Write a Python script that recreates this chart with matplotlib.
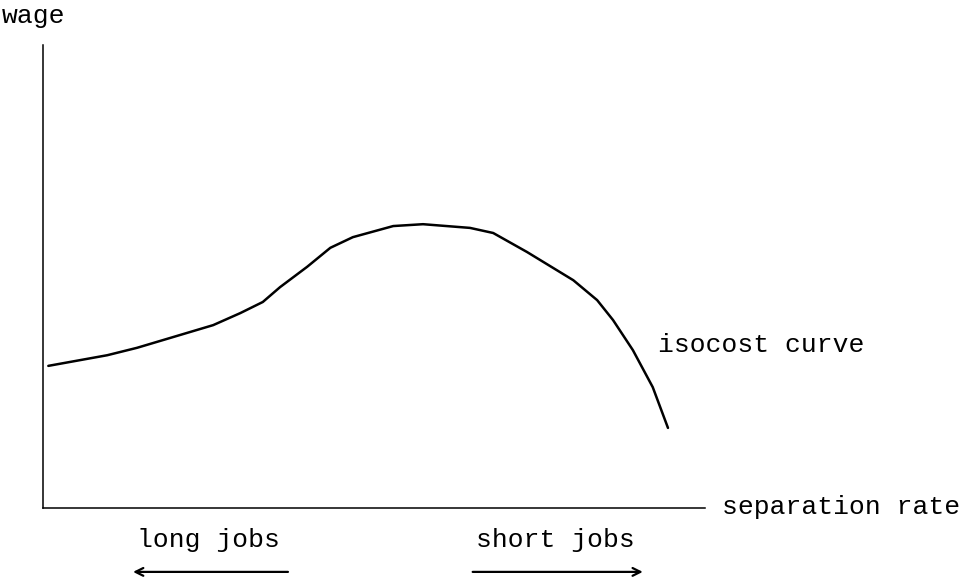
import matplotlib
matplotlib.use('Agg')
import matplotlib.pyplot as plt

# isocost curve (both axes scaled 0..1)
sep_rate = [0.008, 0.097, 0.142, 0.196, 0.257, 0.298, 0.332, 0.358, 0.399, 0.434, 0.468,
            0.529, 0.574, 0.645, 0.680, 0.731, 0.801, 0.837, 0.861, 0.891, 0.921, 0.944]
wage = [0.307, 0.330, 0.346, 0.369, 0.395, 0.421, 0.445, 0.477, 0.521, 0.562, 0.585,
        0.609, 0.613, 0.605, 0.594, 0.553, 0.492, 0.449, 0.406, 0.341, 0.261, 0.173]

y_label = 'wage'
x_label = 'separation rate'
curve_label = 'isocost curve'
left_label = 'long jobs'
right_label = 'short jobs'

plt.rcParams['font.family'] = ['Liberation Mono', 'DejaVu Sans Mono']

fig = plt.figure(figsize=(9.69, 5.78), dpi=100)
ax = fig.add_axes([0.0444, 0.1211, 0.6832, 0.8010])

# the curve
ax.plot(sep_rate, wage, color='black', linewidth=1.8, solid_capstyle='round')

ax.set_xlim(0, 1)
ax.set_ylim(0, 1)
ax.set_xticks([])
ax.set_yticks([])
ax.spines['top'].set_visible(False)
ax.spines['right'].set_visible(False)
ax.spines['left'].set_linewidth(1.1)
ax.spines['bottom'].set_linewidth(1.1)

fs = 19
# axis labels and curve label
ax.text(-0.062, 1.047, y_label, transform=ax.transAxes, fontsize=fs, va='baseline', ha='left', clip_on=False)
ax.text(1.026, -0.013, x_label, transform=ax.transAxes, fontsize=fs, va='baseline', ha='left', clip_on=False)
ax.text(0.929, 0.337, curve_label, transform=ax.transAxes, fontsize=fs, va='baseline', ha='left', clip_on=False)

# long jobs / short jobs with arrows underneath
ax.text(0.142, -0.084, left_label, transform=ax.transAxes, fontsize=fs, va='baseline', ha='left', clip_on=False)
ax.text(0.654, -0.084, right_label, transform=ax.transAxes, fontsize=fs, va='baseline', ha='left', clip_on=False)

arrow_style = dict(arrowstyle='->', color='black', lw=1.6, mutation_scale=14,
                   shrinkA=0, shrinkB=0)
ax.annotate('', xy=(0.136, -0.138), xytext=(0.370, -0.138), xycoords='axes fraction',
            textcoords='axes fraction', arrowprops=arrow_style, annotation_clip=False)
ax.annotate('', xy=(0.906, -0.138), xytext=(0.649, -0.138), xycoords='axes fraction',
            textcoords='axes fraction', arrowprops=arrow_style, annotation_clip=False)

fig.savefig('out.png', dpi=100)
